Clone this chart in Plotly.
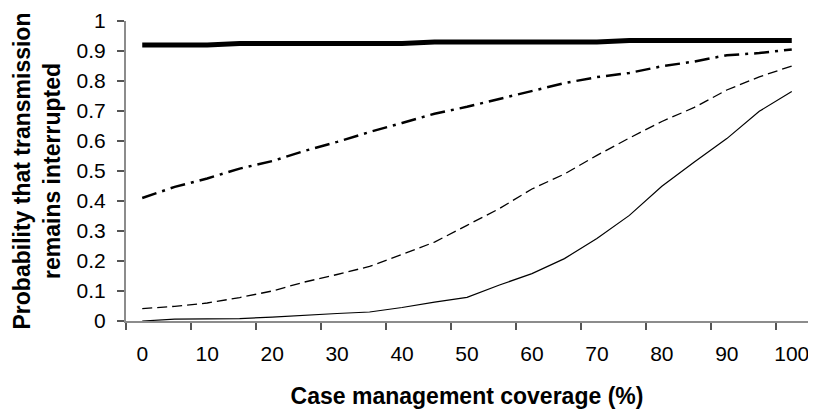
import plotly.graph_objects as go

coverage = list(range(0, 101, 5))
tick_labels = [str(v) for v in range(0, 101, 10)]

thick_solid = [0.92, 0.92, 0.92, 0.925, 0.925, 0.925, 0.925, 0.925, 0.925, 0.93, 0.93,
               0.93, 0.93, 0.93, 0.93, 0.935, 0.935, 0.935, 0.935, 0.935, 0.935]
dash_dot = [0.41, 0.447, 0.475, 0.508, 0.533, 0.567, 0.597, 0.63, 0.66, 0.691, 0.714,
            0.741, 0.767, 0.793, 0.813, 0.827, 0.849, 0.865, 0.886, 0.893, 0.905]
dashed = [0.041, 0.049, 0.06, 0.078, 0.10, 0.13, 0.155, 0.182, 0.222, 0.263, 0.319,
          0.375, 0.44, 0.49, 0.552, 0.61, 0.665, 0.712, 0.77, 0.814, 0.85]
thin_solid = [0.0, 0.006, 0.007, 0.008, 0.013, 0.02, 0.025, 0.03, 0.045, 0.063, 0.079,
              0.12, 0.158, 0.208, 0.275, 0.352, 0.449, 0.53, 0.608, 0.699, 0.765]

idx = list(range(len(coverage)))
label_pos = idx[::2]
tick_mark_pos = [i - 0.5 for i in label_pos]

fig = go.Figure()
fig.add_trace(go.Scatter(x=idx, y=thin_solid, mode="lines",
                         line=dict(color="black", width=1.2)))
fig.add_trace(go.Scatter(x=idx, y=dashed, mode="lines",
                         line=dict(color="black", width=1.3, dash="10px,5px")))
fig.add_trace(go.Scatter(x=idx, y=dash_dot, mode="lines",
                         line=dict(color="black", width=2.5, dash="15px,6px,3px,6px")))
fig.add_trace(go.Scatter(x=idx, y=thick_solid, mode="lines",
                         line=dict(color="black", width=5)))

font_family = "Liberation Sans, Arial, sans-serif"

# page body has an 8px margin, so the figure is sized to fill the rest of the window
fig.update_layout(
    width=808, height=402,
    margin=dict(l=118, r=7.5, t=12.7, b=89.3),
    paper_bgcolor="white", plot_bgcolor="white",
    showlegend=False,
    font=dict(family=font_family, color="black", size=21),
    xaxis=dict(
        range=[-0.5, 20.5],
        automargin=False,
        tickvals=label_pos,
        ticktext=tick_labels,
        ticks="",
        ticklabelstandoff=13,
        showgrid=False, zeroline=False,
        showline=True, linecolor="#8c8c8c", linewidth=2,
        tickfont=dict(size=21),
        minor=dict(tickvals=tick_mark_pos,
                   ticks="outside", ticklen=7, tickwidth=1.5, tickcolor="#555", showgrid=False),
        title=dict(text="<b>Case management coverage (%)</b>", font=dict(size=23), standoff=24),
    ),
    yaxis=dict(
        range=[0, 1],
        automargin=False,
        tickvals=[i / 10 for i in range(11)],
        ticktext=["0", "0.1", "0.2", "0.3", "0.4", "0.5", "0.6", "0.7", "0.8", "0.9", "1"],
        ticks="outside", ticklen=7, tickwidth=1.5, tickcolor="#555",
        ticklabelstandoff=7,
        showgrid=False, zeroline=False,
        showline=True, linecolor="#8c8c8c", linewidth=2,
        tickfont=dict(size=21),
        title=dict(text="<b>Probability that transmission<br>remains interrupted</b>",
                   font=dict(size=23), standoff=10),
    ),
)

fig.write_html("out.html")
